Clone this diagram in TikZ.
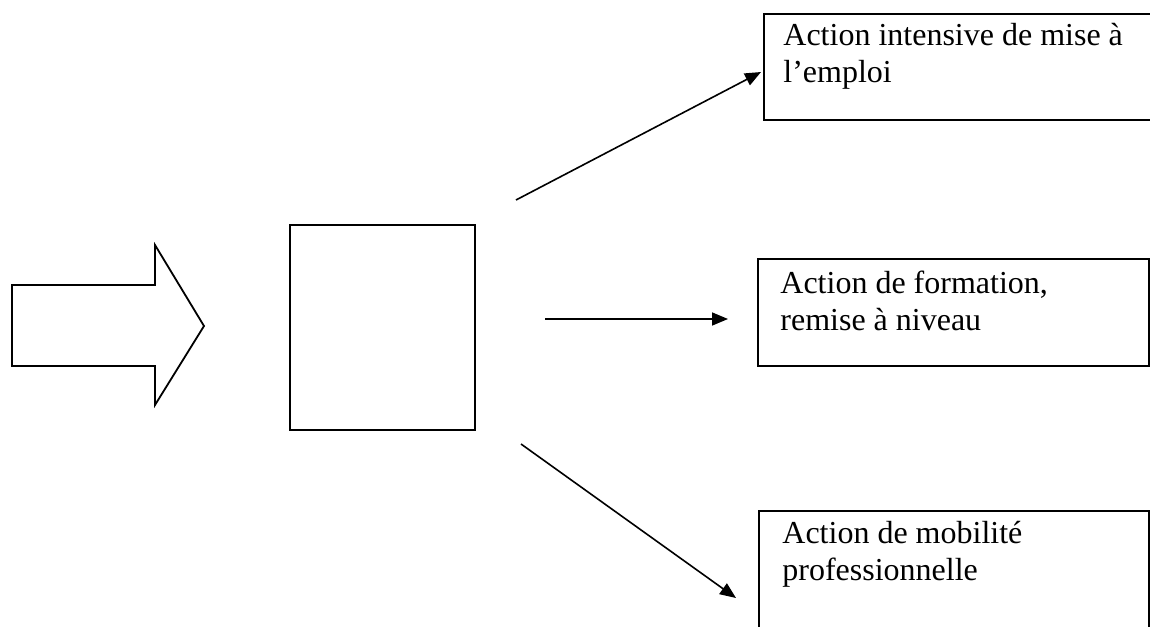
\documentclass[tikz,border=0pt]{standalone}
\usepackage{fontspec}
\setmainfont{Liberation Serif}
\usepackage{tikz}
\usetikzlibrary{arrows.meta,calc}
\tikzstyle{box}=[rectangle,draw=black,line width=0.9pt,inner sep=0pt,anchor=north west]
\tikzstyle{lbl}=[inner sep=0pt,anchor=base west,align=left,font=\fontsize{16}{18.5}\selectfont]
\tikzstyle{flow}=[line width=0.8pt,-{Triangle[length=8pt,width=6.5pt]}]

\begin{document}
\begin{tikzpicture}[x=0.5pt,y=-0.5pt]
        \useasboundingbox (0,0) rectangle (1150,626);
        \clip (0,0) rectangle (1150,626);
        \draw[line width=0.9pt] (12,285) -- (155,285) -- (155,245) -- (204,326)
            -- (155,405) -- (155,366) -- (12,366) -- cycle;
        \node[box,minimum width=92.5pt,minimum height=102.5pt] (mid) at (289,224) {};
        \node[box,minimum width=198.5pt,minimum height=53pt] (emploi) at (763,13) {};
        \node[box,minimum width=195.5pt,minimum height=53.5pt] (formation) at (757,258) {};
        \node[box,minimum width=195pt,minimum height=65pt] (mobilite) at (758,510) {};
        \node[lbl] (t1) at (783,83) {Action intensive de mise à\\l’emploi};
        \node[lbl] (t2) at (780,330) {Action de formation,\\remise à niveau};
        \node[lbl] (t3) at (782,580) {Action de mobilité\\professionnelle};
        \coordinate (a1) at (516,200);
        \coordinate (b1) at (761,72);
        \coordinate (a2) at (545,319);
        \coordinate (b2) at (728,319);
        \coordinate (a3) at (521,444);
        \coordinate (b3) at (736,598);
        \draw[flow] (a1) to (b1);
        \draw[flow] (a2) to (b2);
        \draw[flow] (a3) to (b3);
    \end{tikzpicture}
\end{document}
